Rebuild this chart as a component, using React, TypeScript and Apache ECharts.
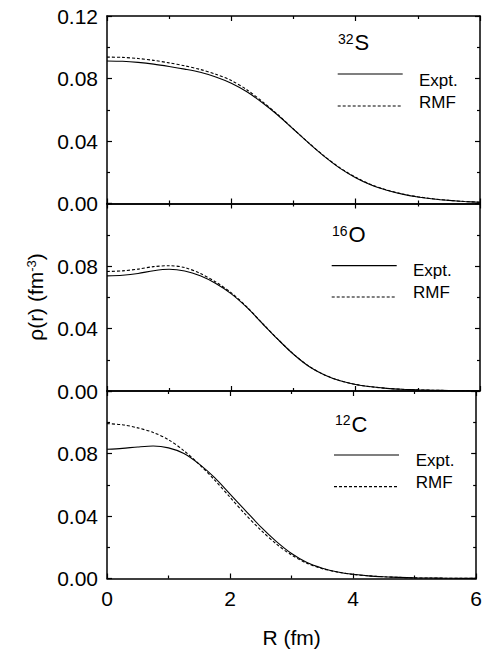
import React, { useEffect, useRef } from 'react';
import * as echarts from 'echarts';

const R = [0, 0.25, 0.5, 0.75, 1, 1.25, 1.5, 1.75, 2, 2.25, 2.5, 2.75, 3, 3.25, 3.5, 3.75, 4, 4.25, 4.5, 4.75, 5, 5.25, 5.5, 5.75, 6];

const S32_EXPT = [0.0912, 0.0910, 0.0903, 0.0892, 0.0877, 0.0860, 0.0840, 0.0810, 0.0770, 0.0715, 0.0645, 0.0565, 0.0475, 0.0385, 0.0300, 0.0225, 0.0165, 0.0118, 0.0085, 0.0060, 0.0042, 0.0029, 0.0020, 0.0013, 0.0008];
const S32_RMF = [0.0937, 0.0935, 0.0928, 0.0916, 0.0900, 0.0881, 0.0858, 0.0827, 0.0787, 0.0728, 0.0652, 0.0568, 0.0476, 0.0386, 0.0302, 0.0228, 0.0168, 0.0121, 0.0087, 0.0061, 0.0043, 0.0030, 0.0020, 0.0013, 0.0008];

const O16_EXPT = [0.0737, 0.0741, 0.0752, 0.0770, 0.0779, 0.0768, 0.0737, 0.0688, 0.0622, 0.0535, 0.0432, 0.0330, 0.0235, 0.0157, 0.0102, 0.0065, 0.0042, 0.0027, 0.0017, 0.0011, 0.0007, 0.0005, 0.0003, 0.0002, 0.0001];
const O16_RMF = [0.0765, 0.0769, 0.0780, 0.0796, 0.0802, 0.0790, 0.0752, 0.0698, 0.0628, 0.0538, 0.0433, 0.0331, 0.0236, 0.0158, 0.0103, 0.0066, 0.0042, 0.0027, 0.0017, 0.0011, 0.0007, 0.0005, 0.0003, 0.0002, 0.0001];

const C12_EXPT = [0.0827, 0.0833, 0.0842, 0.0848, 0.0836, 0.0800, 0.0732, 0.0645, 0.0540, 0.0435, 0.0330, 0.0238, 0.0160, 0.0102, 0.0066, 0.0042, 0.0027, 0.0017, 0.0011, 0.0007, 0.0004, 0.0003, 0.0002, 0.0001, 0.0001];
const C12_RMF = [0.0991, 0.0984, 0.0964, 0.0935, 0.0888, 0.0818, 0.0730, 0.0630, 0.0520, 0.0410, 0.0310, 0.0222, 0.0150, 0.0097, 0.0063, 0.0041, 0.0026, 0.0017, 0.0011, 0.0007, 0.0004, 0.0003, 0.0002, 0.0001, 0.0001];

const X_TICKS = ['0', '2', '4', '6'];
const PANEL_LABELS = [
  { mass: '32', el: 'S' },
  { mass: '16', el: 'O' },
  { mass: '12', el: 'C' },
];
const LEGEND_NAMES = ['Expt.', 'RMF'];
const X_TITLE = 'R (fm)';

const FONT = 'Liberation Sans, Arial, Helvetica, sans-serif';

export default function App() {
  const ref = useRef<HTMLDivElement>(null);

  useEffect(() => {
    if (!ref.current) return;
    const chart = echarts.init(ref.current, undefined, { renderer: 'svg' });

    const tops = [16, 203.5, 391];
    const H = 187.5;
    const grids = tops.map((t) => ({ left: 107, top: t, width: 373, height: H }));

    const axisLine = { show: true, onZero: false, lineStyle: { color: '#000', width: 1.5 } };
    const tick = { show: true, inside: true, length: 5, lineStyle: { color: '#000', width: 1.2 } };
    const minor = { show: true, splitNumber: 2, length: 3, lineStyle: { color: '#000', width: 1.2 } };

    const xAxes: any[] = [];
    const yAxes: any[] = [];
    grids.forEach((_, i) => {
      xAxes.push({
        type: 'value', gridIndex: i, position: 'bottom', min: 0, max: 6, interval: 2,
        axisLine, axisTick: tick, minorTick: minor, splitLine: { show: false },
        axisLabel: {
          show: i === 2, color: '#000', fontSize: 21, fontFamily: FONT, margin: 9,
          formatter: (v: number) => X_TICKS[Math.round(v / 2)] ?? '',
        },
        name: i === 2 ? X_TITLE : '', nameLocation: 'middle', nameGap: 48,
        nameTextStyle: { color: '#000', fontSize: 21, fontFamily: FONT },
      });
      xAxes.push({
        type: 'value', gridIndex: i, position: 'top', min: 0, max: 6, interval: 2,
        axisLine, axisTick: tick, minorTick: minor, splitLine: { show: false },
        axisLabel: { show: false },
      });
      yAxes.push({
        type: 'value', gridIndex: i, position: 'left', min: 0, max: 0.12, interval: 0.04,
        axisLine, axisTick: tick, minorTick: minor, splitLine: { show: false },
        axisLabel: {
          color: '#000', fontSize: 21, fontFamily: FONT, margin: 9,
          formatter: (v: number) => (i > 0 && v > 0.11 ? '' : v.toFixed(2)),
        },
      });
      yAxes.push({
        type: 'value', gridIndex: i, position: 'right', min: 0, max: 0.12, interval: 0.04,
        axisLine, axisTick: tick, minorTick: minor, splitLine: { show: false },
        axisLabel: { show: false },
      });
    });

    const pairs = (ys: number[]) => R.map((r, k) => [r, ys[k]]);
    const sets = [
      [S32_EXPT, S32_RMF],
      [O16_EXPT, O16_RMF],
      [C12_EXPT, C12_RMF],
    ];
    const series: any[] = [];
    sets.forEach((pair, i) => {
      pair.forEach((ys, j) => {
        series.push({
          type: 'line', name: LEGEND_NAMES[j], xAxisIndex: 2 * i, yAxisIndex: 2 * i,
          data: pairs(ys), showSymbol: false, smooth: 0.3,
          lineStyle: { color: '#000', width: 1.1, type: j === 0 ? 'solid' : [3, 2] },
          silent: true,
        });
      });
    });

    const panelDeco = [
      { lx: 338, ly: 42.7, x1: 337.7, x2: 402.7, yE: 74, yR: 106, tx: 419, tyE: 80, tyR: 102 },
      { lx: 332, ly: 234.7, x1: 331.7, x2: 396.7, yE: 265.7, yR: 297, tx: 413, tyE: 270, tyR: 292 },
      { lx: 335, ly: 424, x1: 334, x2: 399, yE: 455, yR: 486.7, tx: 415.7, tyE: 460, tyR: 482 },
    ];
    const graphic: any[] = [];
    panelDeco.forEach((d, i) => {
      graphic.push({
        type: 'text', x: d.lx, y: d.ly,
        style: {
          text: `{s|${PANEL_LABELS[i].mass}}{m|${PANEL_LABELS[i].el}}`,
          align: 'left', verticalAlign: 'middle', fill: '#000',
          rich: {
            s: { fontSize: 14, fontFamily: FONT, fill: '#000', verticalAlign: 'top', padding: [0, 1, 0, 0] },
            m: { fontSize: 22, fontFamily: FONT, fill: '#000' },
          },
        },
      });
      graphic.push({ type: 'line', shape: { x1: d.x1, y1: d.yE, x2: d.x2, y2: d.yE }, style: { stroke: '#000', lineWidth: 1.2 } });
      graphic.push({ type: 'line', shape: { x1: d.x1, y1: d.yR, x2: d.x2, y2: d.yR }, style: { stroke: '#000', lineWidth: 1.2, lineDash: [3, 2] } });
      graphic.push({ type: 'text', x: d.tx, y: d.tyE, style: { text: LEGEND_NAMES[0], fontSize: 17, fontFamily: FONT, fill: '#000', align: 'left', verticalAlign: 'middle' } });
      graphic.push({ type: 'text', x: d.tx, y: d.tyR, style: { text: LEGEND_NAMES[1], fontSize: 17, fontFamily: FONT, fill: '#000', align: 'left', verticalAlign: 'middle' } });
    });
    graphic.push({
      type: 'text', x: 35, y: 297, rotation: Math.PI / 2,
      style: {
        text: '{a|ρ(r) (fm}{s|-3}{a|)}',
        align: 'center', verticalAlign: 'middle', fill: '#000',
        rich: {
          a: { fontSize: 21, fontFamily: FONT, fill: '#000' },
          s: { fontSize: 13, fontFamily: FONT, fill: '#000', verticalAlign: 'top' },
        },
      },
    });

    chart.setOption({
      animation: false,
      backgroundColor: '#fff',
      grid: grids,
      xAxis: xAxes,
      yAxis: yAxes,
      series,
      graphic,
    });
    return () => chart.dispose();
  }, []);

  return <div ref={ref} style={{ position: 'fixed', left: 0, top: 0, width: 485, height: 652 }} />;
}
